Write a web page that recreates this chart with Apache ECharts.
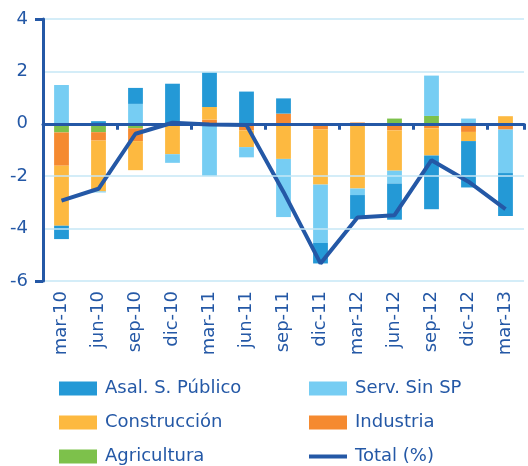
<!DOCTYPE html>
<html>
<head>
<meta charset="utf-8">
<script src="https://cdn.jsdelivr.net/npm/echarts@6/dist/echarts.min.js"></script>
<style>
  html, body { margin: 0; padding: 0; background: #fff; }
  #chart { width: 528px; height: 466px; }
</style>
</head>
<body>
<div id="chart"></div>
<script>
  // trimestres
  const categories = ['mar-10', 'jun-10', 'sep-10', 'dic-10', 'mar-11', 'jun-11', 'sep-11',
    'dic-11', 'mar-12', 'jun-12', 'sep-12', 'dic-12', 'mar-13'];

  // contribuciones por sector (pp)
  const agricultura = [-0.33, -0.32, -0.17, 0, 0, 0, 0, 0, 0, 0.2, 0.3, 0, 0];
  const industria = [-1.27, -0.32, -0.49, -0.08, 0.16, -0.25, 0.39, -0.21, 0.05, -0.25, -0.17, -0.31, -0.22];
  const construccion = [-2.29, -1.94, -1.11, -1.08, 0.48, -0.64, -1.34, -2.11, -2.47, -1.54, -1.04, -0.35, 0.29];
  const servSinSP = [1.48, -0.04, 0.76, -0.33, -2.0, -0.39, -2.22, -2.23, -0.25, -0.49, 1.54, 0.2, -1.66];
  const asalPublico = [-0.51, 0.1, 0.61, 1.53, 1.33, 1.23, 0.58, -0.78, -0.91, -1.38, -2.05, -1.77, -1.64];
  const total = [-2.93, -2.48, -0.38, 0.04, -0.03, -0.05, -2.6, -5.33, -3.58, -3.49, -1.39, -2.21, -3.26];

  const textColor = '#2458A6';
  const fontFamily = 'DejaVu Sans';

  // orden de apilado: del eje hacia fuera
  const barSeries = [
    { name: 'Agricultura', data: agricultura, color: '#7DC14B' },
    { name: 'Industria', data: industria, color: '#F58A30' },
    { name: 'Construcción', data: construccion, color: '#FDB940' },
    { name: 'Serv. Sin SP', data: servSinSP, color: '#76CDF3' },
    { name: 'Asal. S. Público', data: asalPublico, color: '#2499D6' },
  ];

  const chart = echarts.init(document.getElementById('chart'));

  const series = barSeries.map((item) => ({
    name: item.name,
    type: 'bar',
    stack: 'total',
    barWidth: '40%',
    xAxisIndex: 0,
    yAxisIndex: 0,
    itemStyle: { color: item.color },
    data: item.data,
  }));
  series.push({
    name: 'Total (%)',
    type: 'line',
    xAxisIndex: 0,
    yAxisIndex: 0,
    symbol: 'none',
    z: 5,
    itemStyle: { color: textColor },
    lineStyle: { color: textColor, width: 4 },
    data: total,
  });

  const legendBase = {
    orient: 'vertical',
    top: 379,
    padding: 0,
    itemWidth: 38,
    itemHeight: 14,
    itemGap: 15,
    symbolKeepAspect: true,
    textStyle: {
      color: textColor,
      fontSize: 18,
      lineHeight: 19,
      fontFamily: fontFamily,
      padding: [0, 0, 0, 3],
    },
  };

  const option = {
    animation: false,
    textStyle: { fontFamily: fontFamily },
    grid: { left: 43, right: 4, top: 19, bottom: 185 },
    legend: [
      Object.assign({}, legendBase, {
        left: 59,
        data: [
          { name: 'Asal. S. Público', icon: 'rect' },
          { name: 'Construcción', icon: 'rect' },
          { name: 'Agricultura', icon: 'rect' },
        ],
      }),
      Object.assign({}, legendBase, {
        left: 309,
        data: [
          { name: 'Serv. Sin SP', icon: 'rect' },
          { name: 'Industria', icon: 'rect' },
          { name: 'Total (%)', icon: 'path://M0,0H38V4H0Z' },
        ],
      }),
    ],
    xAxis: [
      {
        type: 'category',
        data: categories,
        position: 'bottom',
        axisLine: { onZero: true, lineStyle: { color: textColor, width: 3 } },
        axisTick: { show: true, length: 6, lineStyle: { color: textColor, width: 3 } },
        axisLabel: { show: false },
        splitLine: { show: false },
        z: 6,
      },
      {
        type: 'category',
        data: categories,
        position: 'bottom',
        axisLine: { show: false, onZero: false },
        axisTick: { show: false },
        axisLabel: {
          interval: 0,
          rotate: 90,
          margin: 10,
          color: textColor,
          fontSize: 18,
          fontFamily: fontFamily,
        },
      },
    ],
    yAxis: [
      {
        type: 'value',
        min: -6,
        max: 4,
        interval: 2,
        axisLine: { show: true, lineStyle: { color: textColor, width: 3 } },
        axisTick: { show: false },
        axisLabel: { color: textColor, fontSize: 18, margin: 15, fontFamily: fontFamily },
        splitLine: { lineStyle: { color: '#C6E7F6', width: 1.5 } },
        z: 6,
      },
      {
        // solo las marcas de los extremos
        type: 'value',
        min: -6,
        max: 4,
        interval: 10,
        position: 'left',
        axisLine: { show: false },
        axisTick: { show: true, length: 8, lineStyle: { color: textColor, width: 3 } },
        axisLabel: { show: false },
        splitLine: { show: false },
      },
    ],
    series: series,
  };

  chart.setOption(option);
</script>
</body>
</html>
